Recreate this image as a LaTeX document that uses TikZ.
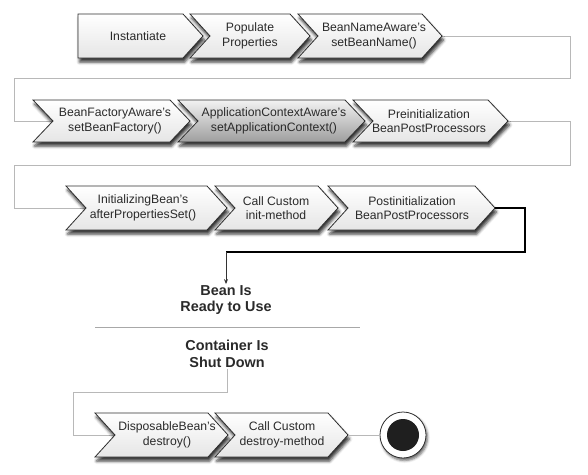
\documentclass[tikz,border=0pt]{standalone}
\usepackage{fontspec}
\setmainfont{Liberation Sans}
\usetikzlibrary{shadows.blur,arrows.meta}
\definecolor{linegray}{HTML}{B8B8B8}
\definecolor{sepgray}{HTML}{A8A8A8}
\definecolor{bord}{HTML}{2E2E2E}
\definecolor{txt}{HTML}{2A2A2A}
\tikzset{
  chev/.style={draw=bord, line width=0.8pt, line join=miter, top color=white, bottom color=black!10,
    blur shadow={shadow xshift=1.5pt, shadow yshift=-4pt, shadow blur radius=3pt, shadow opacity=80}},
  chevdark/.style={chev, top color=black!5, bottom color=black!38},
  lbl/.style={font=\fontsize{12.2}{14.6}\selectfont, text=txt, align=center, inner sep=0pt},
  boldlbl/.style={font=\fontsize{14.4}{16.5}\selectfont\bfseries, text=txt, align=center, inner sep=1pt},
  conn/.style={draw=linegray, line width=0.8pt},
  sep/.style={draw=sepgray, line width=0.9pt},
  mainconn/.style={draw=black, line width=1.5pt},
  tipconn/.style={draw=black!80, line width=0.8pt, -{Stealth[length=5pt,width=4pt]}}
}
\begin{document}
\begin{tikzpicture}[x=1pt,y=-1pt]
\useasboundingbox (0,0) rectangle (588,474);

% ---------- key points ----------
\coordinate (p13) at (442,36);
\coordinate (n21) at (53,121);
\coordinate (p23) at (508,121);
\coordinate (n31) at (86,208);
\coordinate (p33) at (495,208);
\coordinate (n41) at (115,435);
\coordinate (p42) at (348,435);
\coordinate (r1a) at (570,36);
\coordinate (r1b) at (570,78);
\coordinate (r1c) at (14,78);
\coordinate (r1d) at (14,121);
\coordinate (r2a) at (570,121);
\coordinate (r2b) at (570,165);
\coordinate (r2c) at (14,165);
\coordinate (r2d) at (14,208);
\coordinate (k1) at (525,208);
\coordinate (k2) at (525,252);
\coordinate (k3) at (226,252);
\coordinate (s1) at (227,392);
\coordinate (s2) at (73,392);
\coordinate (s3) at (73,435);
\coordinate (sepl) at (95,327);
\coordinate (sepr) at (360,327);

% ---------- connectors ----------
\draw[conn] (p13) -- (r1a) -- (r1b) -- (r1c) -- (r1d) -- (n21);
\draw[conn] (p23) -- (r2a) -- (r2b) -- (r2c) -- (r2d) -- (n31);

% ---------- row 1 ----------
\path[chev] (78,14) -- (183,14) -- (203,36) -- (183,58) -- (78,58) -- cycle;
\path[chev] (190,14) -- (290,14) -- (310,36) -- (290,58) -- (190,58) -- (210,36) -- cycle;
\path[chev] (298,14) -- (422,14) -- (p13) -- (422,58) -- (298,58) -- (318,36) -- cycle;
\node[lbl] (t11) at (138,36) {Instantiate};
\node[lbl] (t12) at (250,36) {Populate\\Properties};
\node[lbl] (t13) at (374,36) {BeanNameAware's\\setBeanName()};

% ---------- row 2 ----------
\path[chev] (33,100) -- (170,100) -- (190,121) -- (170,142) -- (33,142) -- (n21) -- cycle;
\path[chevdark] (178,100) -- (345,100) -- (365,121) -- (345,142) -- (178,142) -- (198,121) -- cycle;
\path[chev] (353,100) -- (488,100) -- (p23) -- (488,142) -- (353,142) -- (373,121) -- cycle;
\node[lbl] (t21) at (115,121) {BeanFactoryAware's\\setBeanFactory()};
\node[lbl] (t22) at (274,121) {ApplicationContextAware's\\setApplicationContext()};
\node[lbl] (t23) at (429,121) {Preinitialization\\BeanPostProcessors};

% ---------- row 3 ----------
\path[chev] (66,186) -- (207,186) -- (227,208) -- (207,230) -- (66,230) -- (n31) -- cycle;
\path[chev] (215,186) -- (318,186) -- (338,208) -- (318,230) -- (215,230) -- (235,208) -- cycle;
\path[chev] (328,186) -- (475,186) -- (p33) -- (475,230) -- (328,230) -- (348,208) -- cycle;
\node[lbl] (t31) at (143,208) {InitializingBean's\\afterPropertiesSet()};
\node[lbl] (t32) at (276,208) {Call Custom\\init-method};
\node[lbl] (t33) at (412,208) {Postinitialization\\BeanPostProcessors};

% ---------- ready / shutdown ----------
\node[boldlbl] (ready) at (226,300) {Bean Is\\Ready to Use};
\draw[mainconn] (p33) -- (k1) -- (k2) -- (k3);
\draw[tipconn] (k3) -- (ready.north);
\draw[sep] (sepl) -- (sepr);
\node[boldlbl] (shut) at (227,354) {Container Is\\Shut Down};
\draw[conn] (shut.south) -- (s1) -- (s2) -- (s3) -- (n41);

% ---------- row 4 ----------
\path[chev] (95,413) -- (208,413) -- (228,435) -- (208,457) -- (95,457) -- (n41) -- cycle;
\path[chev] (215,413) -- (328,413) -- (p42) -- (328,457) -- (215,457) -- (235,435) -- cycle;
\node[lbl] (t41) at (167,435) {DisposableBean's\\destroy()};
\node[lbl] (t42) at (282,435) {Call Custom\\destroy-method};

\node[circle, draw=bord, line width=0.8pt, fill=white, minimum size=46pt, inner sep=0pt,
  blur shadow={shadow xshift=1.5pt, shadow yshift=-2.5pt, shadow blur radius=2.5pt, shadow opacity=60}] (endc) at (403,435) {};
\node[circle, fill=black!88, minimum size=32pt, inner sep=0pt] (endin) at (endc) {};
\draw[conn] (p42) -- (endc.west);
\end{tikzpicture}
\end{document}
